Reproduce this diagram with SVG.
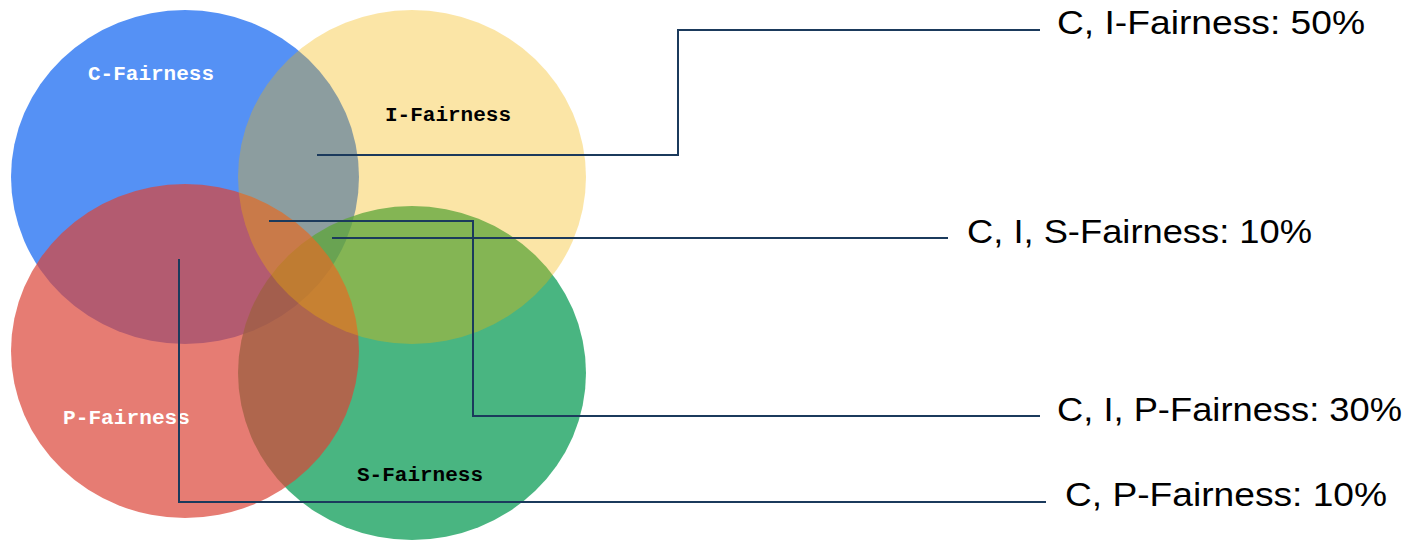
<svg xmlns="http://www.w3.org/2000/svg" width="1414" height="541" viewBox="0 0 1414 541">
<style>
.set{stroke:none}
.lbl{font-family:"Liberation Mono","Courier New",monospace;font-weight:bold;font-size:20px}
.w{fill:#ffffff}
.k{fill:#000000}
.val{font-family:"Liberation Sans",Arial,sans-serif;font-size:34px;fill:#000000}
.conn{fill:none;stroke:#1b3a5c;stroke-width:2}
</style>
<rect width="1414" height="541" fill="#ffffff"/>
<g id="c-fairness"><ellipse class="set" cx="185" cy="177" rx="174" ry="167" fill="#4285F4" fill-opacity="0.9"/></g>
<g id="s-fairness"><ellipse class="set" cx="412" cy="373" rx="174" ry="167" fill="#0F9D58" fill-opacity="0.755"/></g>
<g id="p-fairness"><ellipse class="set" cx="185" cy="351" rx="174" ry="167" fill="#DB4437" fill-opacity="0.7"/></g>
<g id="i-fairness"><ellipse class="set" cx="412" cy="177" rx="174" ry="167" fill="#F4B400" fill-opacity="0.35"/></g>
<g id="set-labels">
<text class="lbl w" x="88" y="80" textLength="126" lengthAdjust="spacingAndGlyphs">C-Fairness</text>
<text class="lbl k" x="385" y="121" textLength="126" lengthAdjust="spacingAndGlyphs">I-Fairness</text>
<text class="lbl w" x="63" y="424" textLength="127" lengthAdjust="spacingAndGlyphs">P-Fairness</text>
<text class="lbl k" x="357" y="481" textLength="126" lengthAdjust="spacingAndGlyphs">S-Fairness</text>
</g>
<g id="connectors">
<polyline class="conn" points="317,155 678,155 678,30 1040,30"/>
<polyline class="conn" points="332,238 948,238"/>
<polyline class="conn" points="269,221 473,221 473,416 1040,416"/>
<polyline class="conn" points="179,259 179,502 1046,502"/>
</g>
<g id="callouts">
<text class="val" x="1057" y="34" textLength="308" lengthAdjust="spacingAndGlyphs">C, I-Fairness: 50%</text>
<text class="val" x="967" y="243" textLength="345" lengthAdjust="spacingAndGlyphs">C, I, S-Fairness: 10%</text>
<text class="val" x="1057" y="421" textLength="345" lengthAdjust="spacingAndGlyphs">C, I, P-Fairness: 30%</text>
<text class="val" x="1065" y="506" textLength="322" lengthAdjust="spacingAndGlyphs">C, P-Fairness: 10%</text>
</g>
</svg>
